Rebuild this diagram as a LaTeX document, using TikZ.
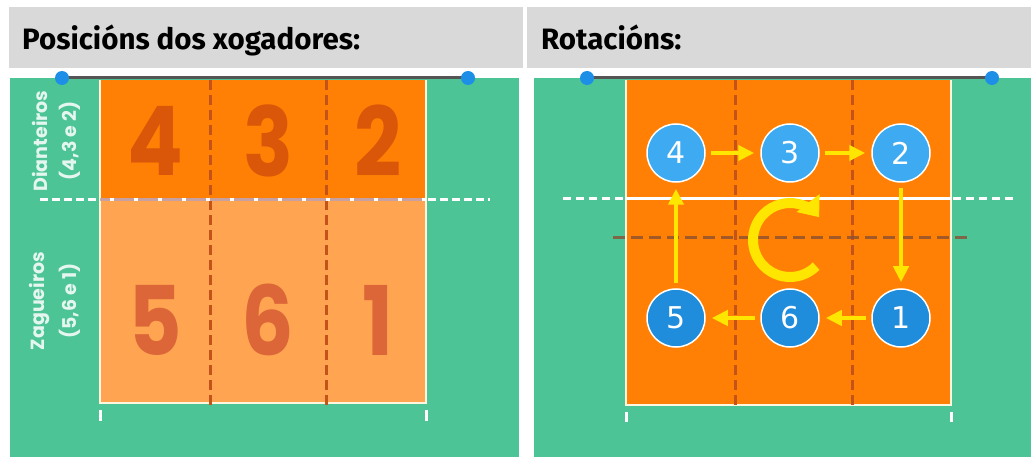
\documentclass[tikz,border=0pt]{standalone}
\usepackage{fontspec}
\setmainfont{DejaVu Sans}
\newfontfamily\headfont{Fira Sans}
\newfontfamily\numfont{Poppins}
\usetikzlibrary{arrows.meta}

\definecolor{headgray}{HTML}{D9D9D9}
\definecolor{courtgreen}{HTML}{4CC496}
\definecolor{frontorange}{HTML}{FF8004}
\definecolor{backorange}{HTML}{FFA552}
\definecolor{zoneline}{HTML}{C4531A}
\definecolor{frontnum}{HTML}{DA5608}
\definecolor{backnum}{HTML}{DC6638}
\definecolor{netgray}{HTML}{555555}
\definecolor{poleblue}{HTML}{1E8FE6}
\definecolor{frontblue}{HTML}{3DAAF2}
\definecolor{backblue}{HTML}{1F8CDC}
\definecolor{arrowyellow}{HTML}{FFE600}
\definecolor{attackmauve}{HTML}{C9A0A0}
\definecolor{chalk}{HTML}{FFF6E0}
\definecolor{midline}{HTML}{8A5032}

\begin{document}
\begin{tikzpicture}
            [x=1pt, y=-1pt,
            header/.style={anchor=base west, inner sep=0, font=\headfont\bfseries\fontsize{29.5}{32}\selectfont},
            bignum/.style={inner sep=0, xscale=0.86, font=\numfont\bfseries\fontsize{96}{96}\selectfont},
            sidelabel/.style={rotate=90, inner sep=0, text=white, text opacity=0.85, font=\numfont\bfseries\fontsize{19}{20}\selectfont},
            player/.style={circle, draw=white, line width=1.5pt, minimum size=58pt, inner sep=0, text=white, font=\fontsize{30}{30}\selectfont},
            zone/.style={zoneline, line width=3pt, dash pattern=on 10pt off 5pt},
            border/.style={chalk, line width=2pt},
            tick/.style={white, line width=3pt},
            net/.style={netgray, line width=3pt},
            flow/.style={arrowyellow, line width=4pt, shorten <=5pt, shorten >=6pt, -{Triangle[length=16pt, width=15pt]}}]

            \useasboundingbox (0,0) rectangle (1031,457);
            \fill[white] (0,0) rectangle (1031,457);

            % Headers
            \fill[headgray] (9,7) rectangle (523,68);
            \fill[headgray] (527,7) rectangle (1031,68);
            \node[header] (titlepos) at (22,50) {Posicións dos xogadores:};
            \node[header] (titlerot) at (541,50) {Rotacións:};

            % ---- Left panel: positions ----
            \fill[courtgreen] (10,78) rectangle (519,457);
            \fill[frontorange] (100,80) rectangle (426,200);
            \fill[backorange] (100,200) rectangle (426,403);
            \draw[border] (100,80) -- (100,403) -- (426,403) -- (426,80);
            \draw[zone] (210,80) -- (210,408);
            \draw[zone] (326,80) -- (326,408);

            % Attack line
            \draw[attackmauve, line width=3pt] (100,200) -- (426,200);
            \draw[white, line width=3pt, dash pattern=on 4pt off 20pt, dash phase=-10pt] (100,200) -- (426,200);
            \draw[white, line width=3pt, dash pattern=on 8pt off 4pt] (40,200) -- (100,200);
            \draw[white, line width=3pt, dash pattern=on 8pt off 4pt] (428,200) -- (490,200);

            % Net and poles
            \draw[net] (62,78) -- (468,78);
            \fill[poleblue] (62,78) circle (7);
            \fill[poleblue] (468,78) circle (7);

            \draw[tick] (100,410) -- (100,421);
            \draw[tick] (426,410) -- (426,421);

            % Zone numbers
            \node[bignum, text=frontnum] (n4) at (155,141) {4};
            \node[bignum, text=frontnum] (n3) at (268,141) {3};
            \node[bignum, text=frontnum] (n2) at (378,141) {2};
            \node[bignum, text=backnum] (n5) at (155,320) {5};
            \node[bignum, text=backnum] (n6) at (268,320) {6};
            \node[bignum, text=backnum] (n1) at (378,320) {1};

            % Side labels
            \node[sidelabel] (front) at (40,141) {Dianteiros};
            \node[sidelabel] (frontset) at (70,141) {(4,3 e 2)};
            \node[sidelabel] (back) at (40,301) {Zagueiros};
            \node[sidelabel] (backset) at (70,301) {(5,6 e 1)};

            % ---- Right panel: rotations ----
            \fill[courtgreen] (534,78) rectangle (1031,457);
            \fill[frontorange] (626,80) rectangle (951,405);
            \draw[border] (626,80) -- (626,405) -- (951,405) -- (951,80);
            \draw[zone] (735,80) -- (735,408);
            \draw[zone] (852,80) -- (852,408);

            \draw[white, line width=3pt] (626,199) -- (951,199);
            \draw[white, line width=3pt, dash pattern=on 8pt off 5pt] (563,199) -- (626,199);
            \draw[white, line width=3pt, dash pattern=on 8pt off 5pt] (953,199) -- (1015,199);
            \draw[midline, opacity=0.8, line width=3pt, dash pattern=on 12pt off 6pt] (613,238) -- (968,238);

            \draw[net] (587,78) -- (992,78);
            \fill[poleblue] (587,78) circle (7);
            \fill[poleblue] (992,78) circle (7);

            \draw[tick] (626,412) -- (626,422);
            \draw[tick] (951,412) -- (951,422);

            % Rotation sign
            \draw[arrowyellow, line width=10pt, -{Triangle[length=18pt, width=28pt]}]
                (790,240) ++(-45:37pt) arc[start angle=-45, end angle=-322, radius=37pt];

            % Players
            \node[player, fill=frontblue] (p4) at (676,153) {4};
            \node[player, fill=frontblue] (p3) at (790,153) {3};
            \node[player, fill=frontblue] (p2) at (901,153) {2};
            \node[player, fill=backblue] (p5) at (676,318) {5};
            \node[player, fill=backblue] (p6) at (790,318) {6};
            \node[player, fill=backblue] (p1) at (901,318) {1};

            \draw[flow] (p4) -- (p3);
            \draw[flow] (p3) -- (p2);
            \draw[flow] (p2) -- (p1);
            \draw[flow] (p1) -- (p6);
            \draw[flow] (p6) -- (p5);
            \draw[flow] (p5) -- (p4);

        \end{tikzpicture}
\end{document}
